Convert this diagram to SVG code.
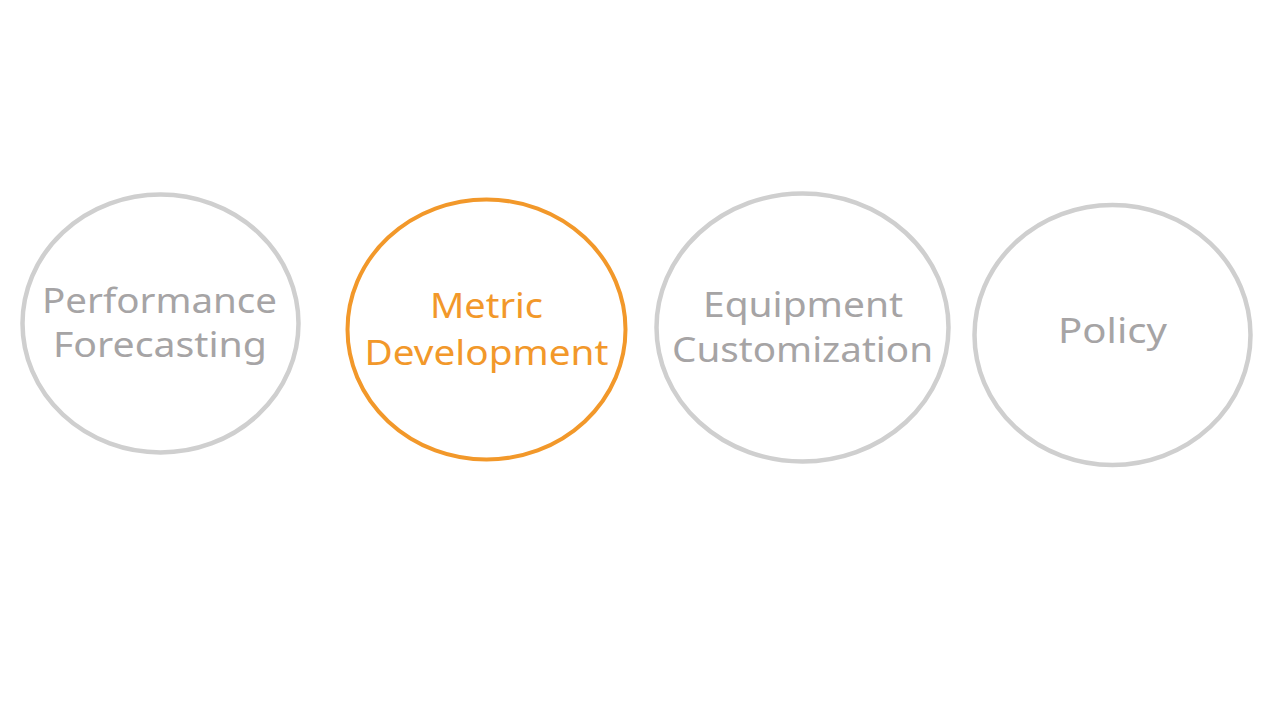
<svg xmlns="http://www.w3.org/2000/svg" width="1280" height="720" viewBox="0 0 1280 720">
  <style>
    .ring { fill: none; stroke: #cfcfcf; stroke-width: 4.5; }
    .ring.active { stroke: #f2982a; stroke-width: 4; }
    .label { font-family: "Noto Sans", "Open Sans", "DejaVu Sans", sans-serif; font-size: 34px; fill: #a6a4a5; text-anchor: middle; }
    .label.active { fill: #f2982a; }
  </style>
  <rect width="1280" height="720" fill="#ffffff"/>

  <g id="node-performance-forecasting">
    <ellipse class="ring" cx="160.5" cy="323.5" rx="138" ry="129"/>
    <text class="label" x="159.5" y="313" textLength="235" lengthAdjust="spacingAndGlyphs">Performance</text>
    <text class="label" x="160" y="357" textLength="214" lengthAdjust="spacingAndGlyphs">Forecasting</text>
  </g>

  <g id="node-metric-development">
    <ellipse class="ring active" cx="486.5" cy="329.5" rx="139" ry="130"/>
    <text class="label active" x="486.5" y="318" textLength="113" lengthAdjust="spacingAndGlyphs">Metric</text>
    <text class="label active" x="486.5" y="365" textLength="244" lengthAdjust="spacingAndGlyphs">Development</text>
  </g>

  <g id="node-equipment-customization">
    <ellipse class="ring" cx="802.5" cy="327.5" rx="146" ry="134"/>
    <text class="label" x="803" y="317" textLength="200" lengthAdjust="spacingAndGlyphs">Equipment</text>
    <text class="label" x="802.5" y="362" textLength="261" lengthAdjust="spacingAndGlyphs">Customization</text>
  </g>

  <g id="node-policy">
    <ellipse class="ring" cx="1112.5" cy="335" rx="138" ry="130"/>
    <text class="label" x="1112.5" y="343" textLength="109" lengthAdjust="spacingAndGlyphs">Policy</text>
  </g>

  <g id="connectors"/>
</svg>
